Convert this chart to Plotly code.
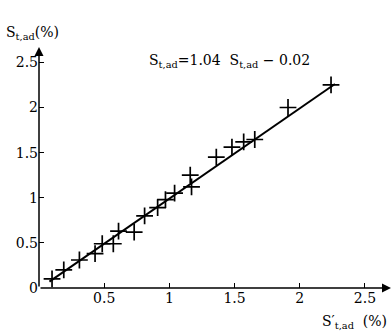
import plotly.graph_objects as go

# measured points (S'_t,ad, S_t,ad)
x_vals = [0.10, 0.19, 0.31, 0.43, 0.485, 0.57, 0.61, 0.73, 0.81, 0.91, 0.97,
          1.04, 1.16, 1.17, 1.36, 1.48, 1.57, 1.655, 1.91, 2.24]
y_vals = [0.10, 0.20, 0.31, 0.38, 0.49, 0.49, 0.63, 0.62, 0.80, 0.89, 0.98,
          1.05, 1.25, 1.12, 1.45, 1.56, 1.62, 1.645, 2.00, 2.25]
# regression line endpoints
line_x = [0.08, 2.27]
line_y = [0.07, 2.26]
tick_vals = [0, 0.5, 1, 1.5, 2, 2.5]
tick_text = ["0", "0.5", "1", "1.5", "2", "2.5"]

FONT = "DejaVu Serif"
FS = 14

W, H = 391, 334
L, R, T, B = 39, 0, 47, 46
PW, PH = W - L - R, H - T - B


def px(x):
    return (x - L) / PW


def py(y):
    return (H - B - y) / PH


fig = go.Figure()
fig.add_trace(go.Scatter(x=line_x, y=line_y, mode="lines",
                         line=dict(color="black", width=2), showlegend=False))
fig.add_trace(go.Scatter(x=x_vals, y=y_vals, mode="markers",
                         marker=dict(symbol="cross-thin", size=12,
                                     line=dict(color="black", width=1.7)),
                         showlegend=False))

XMAX, YMAX = 2.7, 2.67
fig.update_layout(
    width=W, height=H,
    margin=dict(l=L, r=R, t=T, b=B, autoexpand=False),
    plot_bgcolor="white", paper_bgcolor="white",
    font=dict(family=FONT, size=FS, color="black"),
    xaxis=dict(range=[0, XMAX], tickvals=tick_vals[1:], ticktext=tick_text[1:],
               ticks="inside", ticklen=5, tickcolor="black", showgrid=False,
               zeroline=False, showline=False, automargin=False,
               tickfont=dict(family=FONT, size=FS)),
    yaxis=dict(range=[0, YMAX], tickvals=tick_vals, ticktext=tick_text,
               ticks="inside", ticklen=5, tickcolor="black", showgrid=False,
               zeroline=False, showline=False, automargin=False,
               tickfont=dict(family=FONT, size=FS)),
)
# axes with arrowheads
fig.add_annotation(x=XMAX, y=0, ax=0, ay=0, xref="x", yref="y", axref="x", ayref="y",
                   showarrow=True, arrowhead=2, arrowsize=1.2, arrowwidth=1.5,
                   arrowcolor="black", text="")
fig.add_annotation(x=0, y=YMAX, ax=0, ay=0, xref="x", yref="y", axref="x", ayref="y",
                   showarrow=True, arrowhead=2, arrowsize=1.2, arrowwidth=1.5,
                   arrowcolor="black", text="")
fig.add_annotation(x=px(4), y=py(33), xref="paper", yref="paper",
                   text="S<sub>t,ad</sub>(%)",
                   showarrow=False, xanchor="left", yanchor="middle",
                   font=dict(family=FONT, size=FS))
fig.add_annotation(x=px(147), y=py(61), xref="paper", yref="paper",
                   text="S<sub>t,ad</sub>=1.04  S<sub>t,ad</sub> − 0.02",
                   showarrow=False, xanchor="left", yanchor="middle",
                   font=dict(family=FONT, size=FS))
fig.add_annotation(x=px(389), y=py(322), xref="paper", yref="paper",
                   text="S′<sub>t,ad</sub>  (%)",
                   showarrow=False, xanchor="right", yanchor="middle",
                   font=dict(family=FONT, size=FS))

fig.write_html("out.html", config={"displayModeBar": False},
               post_script="document.body.style.margin='0';document.body.style.padding='0';")
